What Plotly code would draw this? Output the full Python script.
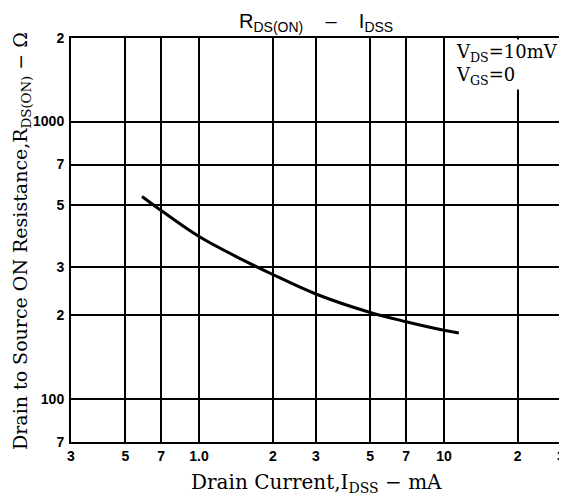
import math
import plotly.graph_objects as go

# Data (Idss in mA, Rds(on) in ohm)
idss_ma = [0.585, 0.7, 1.0, 1.5, 2.0, 3.0, 5.0, 7.0, 10.0, 11.5]
rds_on = [537, 478, 385, 318, 281, 239, 205, 190, 177, 173]

x_tickvals = [0.3, 0.5, 0.7, 1.0, 2, 3, 5, 7, 10, 20, 30]
x_ticktext = ["3", "5", "7", "1.0", "2", "3", "5", "7", "10", "2", "3"]
y_tickvals = [70, 100, 200, 300, 500, 700, 1000, 2000]
y_ticktext = ["7", "100", "2", "3", "5", "7", "1000", "2"]

tick_font = dict(family="Liberation Sans Narrow, Liberation Sans, Arial", size=14,
                 color="black", weight="bold")
serif = "DejaVu Serif, Liberation Serif, serif"

fig = go.Figure()
fig.add_trace(go.Scatter(
    x=idss_ma, y=rds_on, mode="lines",
    line=dict(color="black", width=3, shape="spline", smoothing=1.0),
    showlegend=False, hoverinfo="skip",
))

fig.update_layout(
    width=559, height=492,
    margin=dict(l=63, r=2, t=30, b=58),
    paper_bgcolor="white", plot_bgcolor="white",
    xaxis=dict(
        type="log", range=[math.log10(0.3), math.log10(30.05)],
        tickvals=x_tickvals, ticktext=x_ticktext, tickfont=tick_font,
        showgrid=True, gridcolor="black", gridwidth=2,
        showline=True, linecolor="black", linewidth=2, mirror=True,
        ticks="", ticklabelstandoff=0, zeroline=False,
    ),
    yaxis=dict(
        type="log", range=[math.log10(70), math.log10(2000)],
        tickvals=y_tickvals, ticktext=y_ticktext, tickfont=tick_font,
        showgrid=True, gridcolor="black", gridwidth=2,
        showline=True, linecolor="black", linewidth=2, mirror=True,
        ticks="", ticklabelstandoff=2, zeroline=False,
    ),
    annotations=[
        dict(text="R<sub>DS(ON)</sub>    –    I<sub>DSS</sub>", xref="paper", yref="paper",
             x=0.5, y=1.0, xanchor="center", yanchor="bottom", yshift=1, showarrow=False,
             font=dict(family="Liberation Sans, Arial", size=20, color="black")),
        dict(text="Drain Current,I<sub>DSS</sub> − mA", xref="paper", yref="paper",
             x=0.5, y=0, xanchor="center", yanchor="top", yshift=-26, showarrow=False,
             font=dict(family=serif, size=20, color="black")),
        dict(text="Drain to Source ON Resistance,R<sub>DS(ON)</sub> − Ω", xref="paper", yref="paper",
             x=0, y=0.5, xanchor="center", yanchor="middle", xshift=-50, yshift=-1, textangle=-90,
             showarrow=False, font=dict(family=serif, size=19, color="black")),
        dict(text="V<sub>DS</sub>=10mV<br>V<sub>GS</sub>=0", xref="paper", yref="paper",
             x=1.0, y=1.0, xanchor="right", yanchor="top", xshift=-1, yshift=-1,
             align="left", showarrow=False, bgcolor="white", borderpad=1,
             font=dict(family=serif, size=18, color="black")),
    ],
)

fig.write_html("out.html")
